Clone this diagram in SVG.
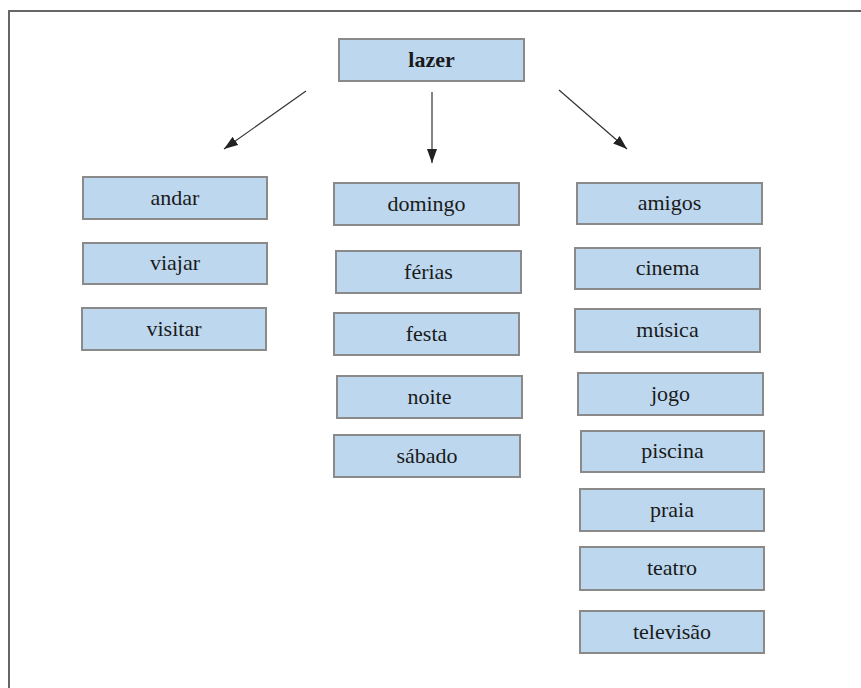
<svg xmlns="http://www.w3.org/2000/svg" width="861" height="688" viewBox="0 0 861 688">
<style>
.n rect{fill:#bdd7ee;stroke:#8a8a8a;stroke-width:2}
.n text{font-family:"Liberation Serif",serif;font-size:22px;fill:#1a1a1a;text-anchor:middle;dominant-baseline:central}
.c line{stroke:#333;stroke-width:1.2;marker-end:url(#ah)}
</style>
<defs>
<marker id="ah" viewBox="0 0 14 10" refX="14" refY="5" markerWidth="14" markerHeight="10" markerUnits="userSpaceOnUse" orient="auto"><path d="M0,0L14,5L0,10z" fill="#222"/></marker>
</defs>
<rect width="861" height="688" fill="#fff"/>
<path d="M9,688V11H861" fill="none" stroke="#666" stroke-width="2"/>
<g class="c">
<line x1="306" y1="91" x2="224" y2="149"/>
<line x1="432" y1="92" x2="432" y2="163"/>
<line x1="559" y1="90" x2="627" y2="149"/>
</g>
<g class="n" id="lazer"><rect x="339" y="39" width="185" height="42"/><text x="431.5" y="59" font-weight="bold">lazer</text></g>
<g class="n" id="andar"><rect x="83" y="177" width="184" height="42"/><text x="175" y="197">andar</text></g>
<g class="n" id="viajar"><rect x="83" y="243" width="184" height="41"/><text x="175" y="262.5">viajar</text></g>
<g class="n" id="visitar"><rect x="82" y="308" width="184" height="42"/><text x="174" y="328">visitar</text></g>
<g class="n" id="domingo"><rect x="334" y="183" width="185" height="42"/><text x="426.5" y="203">domingo</text></g>
<g class="n" id="ferias"><rect x="336" y="251" width="185" height="42"/><text x="428.5" y="271">férias</text></g>
<g class="n" id="festa"><rect x="334" y="313" width="185" height="42"/><text x="426.5" y="333">festa</text></g>
<g class="n" id="noite"><rect x="337" y="376" width="185" height="42"/><text x="429.5" y="396">noite</text></g>
<g class="n" id="sabado"><rect x="334" y="435" width="186" height="42"/><text x="427" y="455">sábado</text></g>
<g class="n" id="amigos"><rect x="577" y="183" width="185" height="41"/><text x="669.5" y="202.5">amigos</text></g>
<g class="n" id="cinema"><rect x="575" y="248" width="185" height="41"/><text x="667.5" y="267.5">cinema</text></g>
<g class="n" id="musica"><rect x="575" y="309" width="185" height="43"/><text x="667.5" y="329.5">música</text></g>
<g class="n" id="jogo"><rect x="578" y="373" width="185" height="42"/><text x="670.5" y="393">jogo</text></g>
<g class="n" id="piscina"><rect x="581" y="431" width="183" height="41"/><text x="672.5" y="450.5">piscina</text></g>
<g class="n" id="praia"><rect x="580" y="489" width="184" height="42"/><text x="672" y="509">praia</text></g>
<g class="n" id="teatro"><rect x="580" y="547" width="184" height="43"/><text x="672" y="567.5">teatro</text></g>
<g class="n" id="televisao"><rect x="580" y="611" width="184" height="42"/><text x="672" y="631">televisão</text></g>
</svg>
